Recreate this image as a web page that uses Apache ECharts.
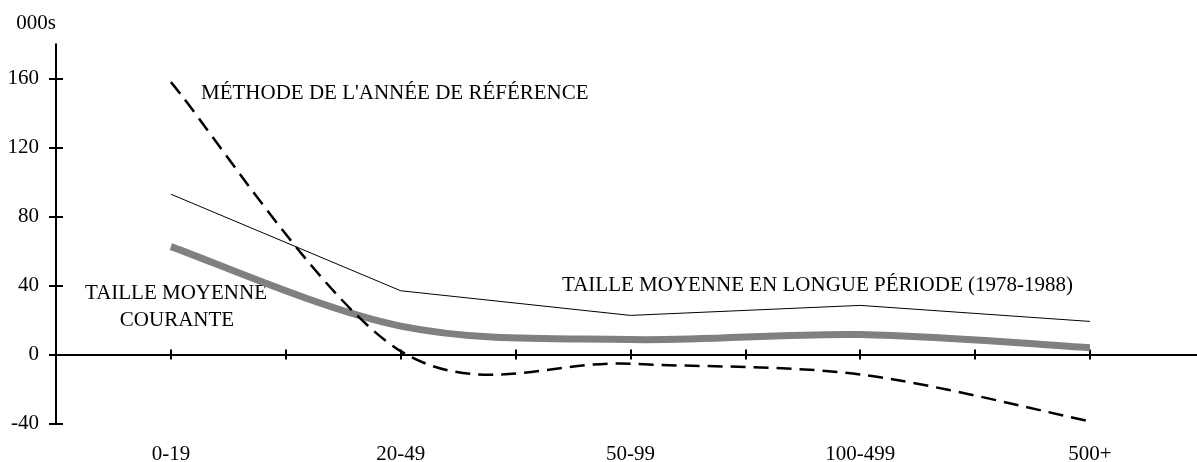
<!DOCTYPE html>
<html>
<head>
<meta charset="utf-8">
<script src="https://cdn.jsdelivr.net/npm/echarts@6/dist/echarts.min.js"></script>
<style>
html,body{margin:0;padding:0;background:#fff;}
#chart{width:1197px;height:462px;}
</style>
</head>
<body>
<div id="chart"></div>
<script>
// ---- data ----
const categories = ['0-19', '20-49', '50-99', '100-499', '500+'];
const tailleLongue = [93, 37, 22.7, 28.5, 19.2];          // thin solid line
const tailleCourante = [62.6, 16.5, 8.7, 11.6, 4];        // thick grey smoothed line
const methodeAnneeRef = [158, 2, -5.3, -11.6, -38.8];     // dashed smoothed line
const yTicks = [-40, 0, 40, 80, 120, 160];
const yUnit = '000s';
const labelMethode = "MÉTHODE DE L'ANNÉE DE RÉFÉRENCE";
const labelCourante1 = 'TAILLE MOYENNE';
const labelCourante2 = 'COURANTE';
const labelLongue = 'TAILLE MOYENNE EN LONGUE PÉRIODE (1978-1988)';

// ---- derived ----
const catIdx = categories.map((c, i) => i);
const xTicks = [];
catIdx.forEach(i => { xTicks.push(i); if (i < categories.length - 1) xTicks.push(i + 0.5); });
const toPairs = arr => arr.map((v, i) => [i, v]);

const FONT = '"Liberation Serif", "Times New Roman", serif';
const FS = 21;
const X_MIN = -0.5, X_MAX = 4.466;

// Spreadsheet-style (Catmull-Rom) smoothed curve through the data points,
// positioned with the chart's own scales via api.coord.
function smoothRenderer(values, lineStyle) {
  return function (params, api) {
    if (params.dataIndex !== 0) return null;
    const pts = values.map((v, i) => api.coord([i, v]));
    let d = 'M' + pts[0][0] + ' ' + pts[0][1];
    for (let i = 0; i < pts.length - 1; i++) {
      const p0 = pts[i - 1] || pts[i];
      const p1 = pts[i];
      const p2 = pts[i + 1];
      const p3 = pts[i + 2] || pts[i + 1];
      const c1x = p1[0] + (p2[0] - p0[0]) / 6;
      const c1y = p1[1] + (p2[1] - p0[1]) / 6;
      const c2x = p2[0] - (p3[0] - p1[0]) / 6;
      const c2y = p2[1] - (p3[1] - p1[1]) / 6;
      d += ' C' + c1x + ' ' + c1y + ' ' + c2x + ' ' + c2y + ' ' + p2[0] + ' ' + p2[1];
    }
    return {
      type: 'path',
      shape: {pathData: d},
      style: Object.assign({fill: 'none'}, lineStyle)
    };
  };
}

const chart = echarts.init(document.getElementById('chart'), null, {renderer: 'canvas'});
const baseX = {
  type: 'value', min: X_MIN, max: X_MAX, position: 'bottom',
  splitLine: {show: false}
};
const option = {
  animation: false,
  backgroundColor: '#fff',
  grid: {left: 56, right: 0, top: 44.2, bottom: 38.5, containLabel: false, outerBoundsMode: 'none'},
  xAxis: [
    Object.assign({}, baseX, {
      axisLine: {show: true, onZero: true, onZeroAxisIndex: 0, lineStyle: {color: '#000', width: 2}},
      axisTick: {show: true, inside: false, length: 5, customValues: xTicks, lineStyle: {color: '#000', width: 2}},
      axisLabel: {show: false}
    }),
    Object.assign({}, baseX, {
      axisLine: {show: true, onZero: true, onZeroAxisIndex: 0, lineStyle: {color: '#000', width: 2}},
      axisTick: {show: true, inside: true, length: 5, customValues: xTicks, lineStyle: {color: '#000', width: 2}},
      axisLabel: {show: false}
    }),
    Object.assign({}, baseX, {
      axisLine: {show: false, onZero: false},
      axisTick: {show: false},
      axisLabel: {show: true, customValues: catIdx, margin: 20, color: '#000', fontFamily: FONT, fontSize: FS,
        formatter: v => categories[Math.round(v)]}
    })
  ],
  yAxis: [
    {
      type: 'value', min: -40, max: 180, position: 'left',
      name: yUnit, nameLocation: 'end', nameGap: 21,
      nameTextStyle: {color: '#000', fontFamily: FONT, fontSize: FS, align: 'right', verticalAlign: 'middle'},
      axisLine: {show: true, onZero: false, lineStyle: {color: '#000', width: 2}},
      axisTick: {show: true, inside: false, length: 7, customValues: yTicks, lineStyle: {color: '#000', width: 2}},
      axisLabel: {show: true, customValues: yTicks, margin: 17, color: '#000', fontFamily: FONT, fontSize: FS},
      splitLine: {show: false}
    },
    {
      type: 'value', min: -40, max: 180, position: 'left',
      axisLine: {show: false, onZero: false},
      axisTick: {show: true, inside: true, length: 7, customValues: yTicks, lineStyle: {color: '#000', width: 2}},
      axisLabel: {show: false},
      splitLine: {show: false}
    }
  ],
  series: [
    {
      name: 'Taille moyenne courante', type: 'custom', xAxisIndex: 0, yAxisIndex: 0,
      data: toPairs(tailleCourante), encode: {x: 0, y: 1}, z: 2,
      renderItem: smoothRenderer(tailleCourante, {stroke: '#808080', lineWidth: 7, lineCap: 'butt', lineJoin: 'round'})
    },
    {
      name: 'Taille moyenne en longue période', type: 'line', xAxisIndex: 0, yAxisIndex: 0,
      data: toPairs(tailleLongue), symbol: 'none', smooth: false,
      lineStyle: {color: '#000', width: 1}, z: 3
    },
    {
      name: "Méthode de l'année de référence", type: 'custom', xAxisIndex: 0, yAxisIndex: 0,
      data: toPairs(methodeAnneeRef), encode: {x: 0, y: 1}, z: 4,
      renderItem: smoothRenderer(methodeAnneeRef, {stroke: '#000', lineWidth: 2.5, lineDash: [15, 8], lineCap: 'butt'})
    }
  ],
  graphic: [
    {type: 'text', x: 201, y: 93.5, style: {text: labelMethode, font: FS + 'px ' + FONT, fill: '#000', align: 'left', verticalAlign: 'middle'}},
    {type: 'text', x: 176, y: 293.7, style: {text: labelCourante1, font: FS + 'px ' + FONT, fill: '#000', align: 'center', verticalAlign: 'middle'}},
    {type: 'text', x: 177, y: 320.3, style: {text: labelCourante2, font: FS + 'px ' + FONT, fill: '#000', align: 'center', verticalAlign: 'middle'}},
    {type: 'text', x: 562, y: 285.3, style: {text: labelLongue, font: FS + 'px ' + FONT, fill: '#000', align: 'left', verticalAlign: 'middle'}}
  ]
};
chart.setOption(option);
</script>
</body>
</html>
